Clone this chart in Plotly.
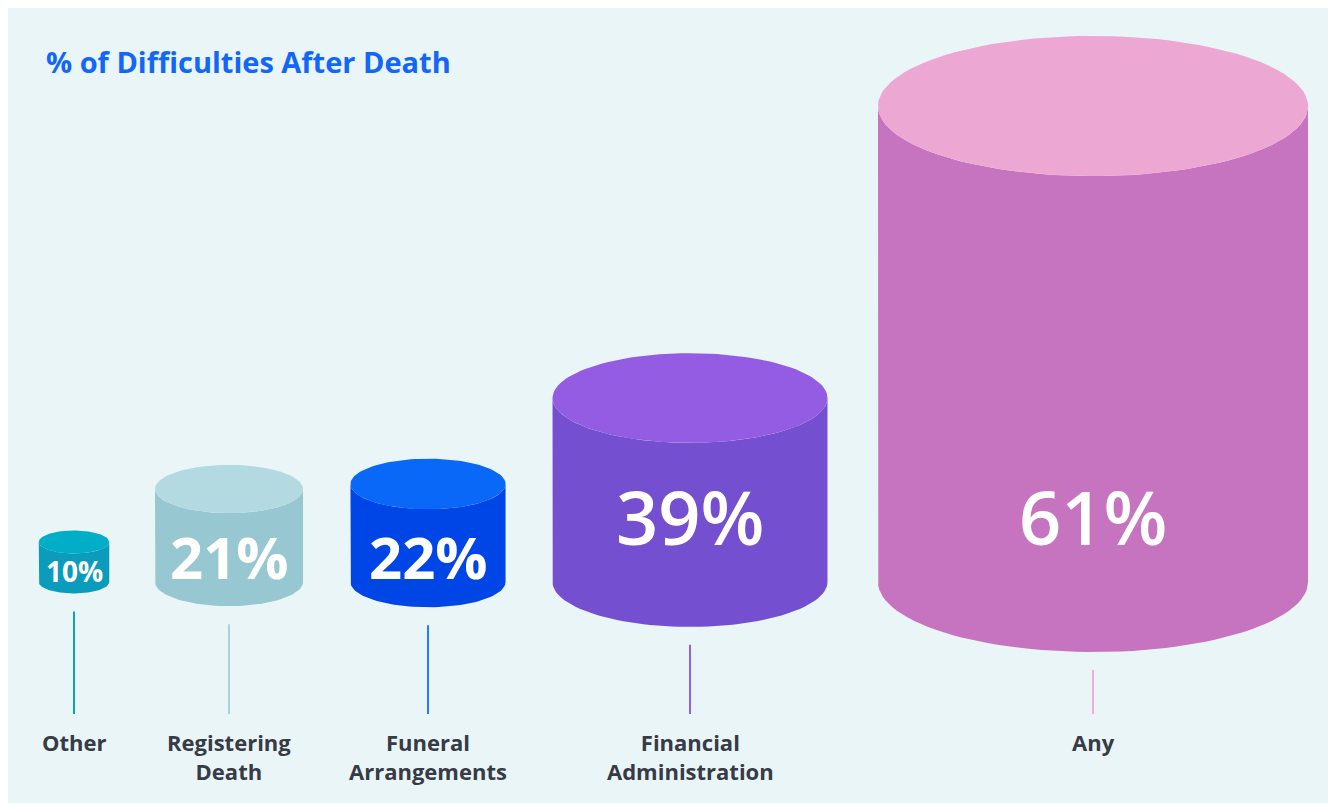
import numpy as np
import plotly.graph_objects as go

# ---- data ----
categories = ["Other", "Registering<br>Death", "Funeral<br>Arrangements", "Financial<br>Administration", "Any"]
values = [10, 21, 22, 39, 61]
value_labels = ["10%", "21%", "22%", "39%", "61%"]
title_text = "% of Difficulties After Death"

# ---- style / layout (pixel-space axes; page body margin is 8px) ----
W, H = 1328, 795
OX, OY = 8, 8
centers_x = [74, 229, 428, 690, 1093]
body_heights = [40, 93, 98, 184, 476]
base_y = 582
px_per_pct = 7.05
ry_ratio = 0.163
label_offsets = [10, 25, 25, 65, 65]
label_sizes = [28, 58, 58, 74, 74]
label_weights = [700, 700, 700, 600, 600]
side_colors = ["#0B9BBC", "#97C7D1", "#0046E6", "#744FCF", "#C774C0"]
top_colors = ["#00AEC7", "#B3D9E1", "#0A68F8", "#945CE3", "#ECA8D2"]
stem_colors = ["#0E9EC0", "#A9D3DC", "#2979FF", "#9361E6", "#EFAED6"]
stem_bottom = 714
BG = "#EAF5F8"
FONT = "Open Sans"

fig = go.Figure()

t = np.linspace(0, np.pi, 60)
tt = np.linspace(0, 2 * np.pi, 120)
for i, v in enumerate(values):
    cx = centers_x[i] - OX
    w = v * px_per_pct
    rx = w / 2
    ry = w * ry_ratio
    yb = base_y - OY
    yt = yb - body_heights[i]
    bx = np.cos(np.pi - t) * rx + cx
    by = np.sin(t) * ry + yb
    body_x = np.concatenate([[cx - rx, cx - rx], bx, [cx + rx, cx + rx], bx[::-1]])
    body_y = np.concatenate([[yt, yb], by, [yb, yt], (np.sin(t) * ry + yt)[::-1]])
    fig.add_trace(go.Scatter(x=body_x, y=body_y, mode="lines", fill="toself",
                             fillcolor=side_colors[i], line=dict(width=0, color=side_colors[i]),
                             hoverinfo="skip", showlegend=False))
    fig.add_trace(go.Scatter(x=np.cos(tt) * rx + cx, y=np.sin(tt) * ry + yt, mode="lines",
                             fill="toself", fillcolor=top_colors[i],
                             line=dict(width=0, color=top_colors[i]),
                             hoverinfo="skip", showlegend=False))
    bottom_edge = yb + ry
    fig.add_trace(go.Scatter(x=[cx, cx], y=[bottom_edge + 18, stem_bottom - OY], mode="lines",
                             line=dict(width=2, color=stem_colors[i]),
                             hoverinfo="skip", showlegend=False))
    fig.add_annotation(x=cx, y=yb - label_offsets[i] - 1, text=value_labels[i], showarrow=False,
                       font=dict(family=FONT, size=label_sizes[i], color="white",
                                 weight=label_weights[i]),
                       xanchor="center", yanchor="middle")
    fig.add_annotation(x=cx, y=717, text=categories[i], showarrow=False,
                       font=dict(family=FONT, size=22, color="#363B45", weight="bold"),
                       xanchor="center", yanchor="top", align="center")

fig.add_annotation(x=44 - OX, y=61 - OY, text=title_text, showarrow=False,
                   font=dict(family=FONT, size=29, color="#1167FA", weight="bold"),
                   xanchor="left", yanchor="middle")

fig.update_layout(
    width=W, height=H,
    margin=dict(l=0, r=0, t=0, b=0),
    paper_bgcolor=BG, plot_bgcolor=BG,
    xaxis=dict(range=[0, W], visible=False, fixedrange=True),
    yaxis=dict(range=[H, 0], visible=False, fixedrange=True),
)

fig.write_html("out.html")
